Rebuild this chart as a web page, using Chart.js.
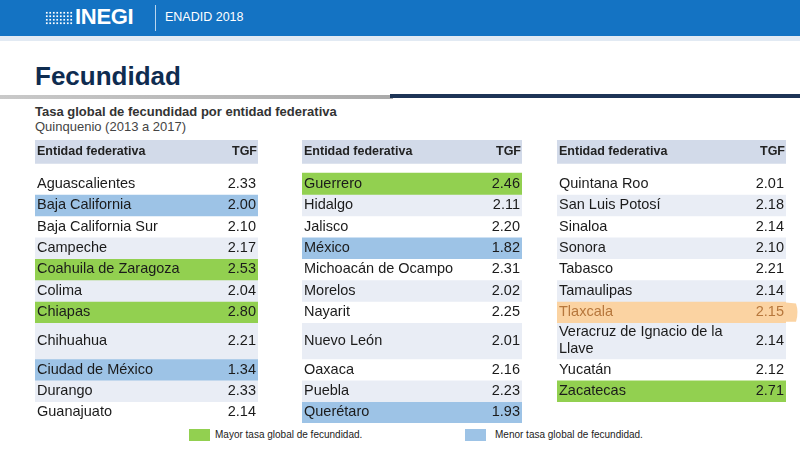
<!DOCTYPE html>
<html lang="es">
<head>
<meta charset="utf-8">
<title>Fecundidad - ENADID 2018</title>
<script src="https://cdn.jsdelivr.net/npm/chart.js@4.4.1/dist/chart.umd.min.js"></script>
<style>
  html, body { margin: 0; padding: 0; }
  body { width: 800px; height: 450px; position: relative; overflow: hidden; background: #fff;
         font-family: "Liberation Sans", Arial, sans-serif; }
  .abs { position: absolute; white-space: nowrap; line-height: 1; }
  #banda { left: 0; top: 0; width: 800px; height: 36px; background: #1473c3; }
  #banda2 { left: 0; top: 36px; width: 800px; height: 5px; background: #e2eaf3; }
  #puntos { left: 45px; top: 11px; width: 28px; height: 14px;
            background-image: radial-gradient(#fff 1px, transparent 1.3px); background-size: 3.5px 3.5px; }
  #logo { left: 75px; top: 6px; font-size: 22px; font-weight: bold; color: #fff; letter-spacing: -0.3px; }
  #sep { left: 155px; top: 5px; width: 1px; height: 26px; background: #b9d5ee; }
  #enadid { left: 165px; top: 11px; font-size: 12.5px; color: #fff; }
  #titulo { left: 35px; top: 63px; font-size: 26px; font-weight: bold; color: #0f2c50; }
  #regla1 { left: 0; top: 95px; width: 393px; height: 4px; background: linear-gradient(90deg, #c9c9c9, #aaaaaa); }
  #regla2 { left: 390px; top: 94px; width: 410px; height: 4px; background: #1d3456; }
  #sub1 { left: 35px; top: 105px; font-size: 13px; font-weight: bold; color: #333; }
  #sub2 { left: 35px; top: 120px; font-size: 13px; color: #444; }
  canvas { position: absolute; top: 140px; }
  .caja { top: 429px; width: 21px; height: 12px; }
  .ley { top: 430px; font-size: 10px; color: #222; }
</style>
</head>
<body>
<div class="abs" id="banda"></div>
<div class="abs" id="banda2"></div>
<div class="abs" id="puntos"></div>
<div class="abs" id="logo">INEGI</div>
<div class="abs" id="sep"></div>
<div class="abs" id="enadid">ENADID 2018</div>
<div class="abs" id="titulo">Fecundidad</div>
<div class="abs" id="regla1"></div>
<div class="abs" id="regla2"></div>
<div class="abs" id="sub1">Tasa global de fecundidad por entidad federativa</div>
<div class="abs" id="sub2">Quinquenio (2013 a 2017)</div>

<canvas id="col0"></canvas>
<canvas id="col1"></canvas>
<canvas id="col2"></canvas>

<div class="abs caja" style="left:189px; background:#92d050;"></div>
<div class="abs ley" style="left:215px;">Mayor tasa global de fecundidad.</div>
<div class="abs caja" style="left:465px; background:#9dc3e6;"></div>
<div class="abs ley" style="left:495px;">Menor tasa global de fecundidad.</div>

<script>
const entidades = [
  'Aguascalientes', 'Baja California', 'Baja California Sur', 'Campeche', 'Coahuila de Zaragoza',
  'Colima', 'Chiapas', 'Chihuahua', 'Ciudad de México', 'Durango', 'Guanajuato',
  'Guerrero', 'Hidalgo', 'Jalisco', 'México', 'Michoacán de Ocampo', 'Morelos', 'Nayarit',
  'Nuevo León', 'Oaxaca', 'Puebla', 'Querétaro',
  'Quintana Roo', 'San Luis Potosí', 'Sinaloa', 'Sonora', 'Tabasco', 'Tamaulipas', 'Tlaxcala',
  'Veracruz de Ignacio de la Llave', 'Yucatán', 'Zacatecas'
];
const tgf = [
  2.33, 2.00, 2.10, 2.17, 2.53, 2.04, 2.80, 2.21, 1.34, 2.33, 2.14,
  2.46, 2.11, 2.20, 1.82, 2.31, 2.02, 2.25, 2.01, 2.16, 2.23, 1.93,
  2.01, 2.18, 2.14, 2.10, 2.21, 2.14, 2.15, 2.14, 2.12, 2.71
];
const filasPorColumna = [11, 11, 10];
const encabezado = ['Entidad federativa', 'TGF'];
const mayorTasa = ['Coahuila de Zaragoza', 'Chiapas', 'Guerrero', 'Zacatecas'];
const menorTasa = ['Baja California', 'Ciudad de México', 'México', 'Querétaro'];
const marcado = ['Tlaxcala'];

// layout (px)
const cols = [
  { left: 35, width: 223, extra: 0 },
  { left: 302, width: 220, extra: 0 },
  { left: 557, width: 229, extra: 14 }
];
const ALTO_ENC = 23.3, HUECO = 9.7, ALTO_FILA = 21.35, ALTO_LINEA = 14.65, INTERLINEA = 17.3;
const FUENTE = '14.5px "Liberation Sans", Arial, sans-serif';
const FUENTE_ENC = 'bold 12.5px "Liberation Sans", Arial, sans-serif';

const medir = document.createElement('canvas').getContext('2d');
medir.font = FUENTE;

function partir(texto, ancho) {
  const palabras = texto.split(' ');
  const lineas = [];
  let actual = '';
  palabras.forEach(p => {
    const prueba = actual ? actual + ' ' + p : p;
    if (actual && medir.measureText(prueba).width > ancho) {
      lineas.push(actual);
      actual = p;
    } else {
      actual = prueba;
    }
  });
  lineas.push(actual);
  return lineas;
}

// split entities into the three columns
const columnas = [];
let k = 0;
filasPorColumna.forEach((n, c) => {
  const filas = [];
  for (let i = 0; i < n; i++, k++) {
    filas.push({
      nombre: entidades[k],
      valor: tgf[k].toFixed(2),
      lineas: partir(entidades[k], cols[c].width - 40)
    });
  }
  columnas.push(filas);
});

// row heights shared by the three columns
const maxFilas = Math.max(...filasPorColumna);
const extents = [];
let y = ALTO_ENC + HUECO;
for (let r = 0; r < maxFilas; r++) {
  const nl = Math.max(...columnas.map(f => f[r] ? f[r].lineas.length : 1));
  const h = ALTO_FILA + (nl - 1) * ALTO_LINEA;
  extents.push([y, y + h]);
  y += h;
}
const total = y;

function colorFila(nombre, r) {
  if (mayorTasa.includes(nombre)) return '#92d050';
  if (menorTasa.includes(nombre)) return '#9dc3e6';
  if (marcado.includes(nombre)) return '#fbd3a2';
  return r % 2 === 1 ? '#e9edf5' : '#ffffff';
}

columnas.forEach((filas, c) => {
  const canvas = document.getElementById('col' + c);
  const w = cols[c].width + cols[c].extra;
  const h = Math.round(total);
  canvas.width = w;
  canvas.height = h;
  canvas.style.left = cols[c].left + 'px';
  canvas.style.width = w + 'px';
  canvas.style.height = h + 'px';

  const datasets = [{ label: 'enc', data: [[0, ALTO_ENC]], backgroundColor: '#d2dae9' }];
  filas.forEach((f, r) => {
    datasets.push({ label: f.nombre, data: [extents[r]], backgroundColor: colorFila(f.nombre, r) });
  });

  const textos = {
    id: 'textos' + c,
    afterDatasetsDraw(chart) {
      const ctx = chart.ctx;
      ctx.save();
      chart.data.datasets.forEach((ds, i) => {
        const el = chart.getDatasetMeta(i).data[0];
        const izq = el.x - el.width / 2, der = el.x + el.width / 2;
        const arriba = Math.min(el.y, el.base), abajo = Math.max(el.y, el.base);
        const medio = (arriba + abajo) / 2;
        ctx.textBaseline = 'middle';
        if (i === 0) {
          ctx.font = FUENTE_ENC;
          ctx.fillStyle = '#222';
          ctx.textAlign = 'left';
          ctx.fillText(encabezado[0], izq + 2, medio);
          ctx.textAlign = 'right';
          ctx.fillText(encabezado[1], der - 1, medio);
          return;
        }
        const f = filas[i - 1];
        if (marcado.includes(f.nombre)) {
          // highlighter stroke running past the table edge
          ctx.fillStyle = ds.backgroundColor;
          ctx.beginPath();
          ctx.moveTo(der, arriba + 1);
          ctx.lineTo(der + 10, arriba + 2);
          ctx.quadraticCurveTo(der + 13, medio, der + 10, abajo - 1);
          ctx.lineTo(der, abajo - 1);
          ctx.fill();
        }
        ctx.font = FUENTE;
        ctx.fillStyle = marcado.includes(f.nombre) ? '#b7773c' : '#1b1b1b';
        ctx.textAlign = 'left';
        const n = f.lineas.length;
        f.lineas.forEach((l, j) => {
          ctx.fillText(l, izq + 2, medio + (j - (n - 1) / 2) * INTERLINEA);
        });
        ctx.textAlign = 'right';
        ctx.fillText(f.valor, der - 2, medio);
      });
      ctx.restore();
    }
  };

  new Chart(canvas, {
    type: 'bar',
    data: { labels: [''], datasets: datasets },
    options: {
      responsive: false,
      animation: false,
      devicePixelRatio: 1,
      layout: { padding: { left: 0, right: cols[c].extra, top: 0, bottom: 0 } },
      datasets: { bar: { grouped: false, categoryPercentage: 1, barPercentage: 1, borderWidth: 0 } },
      scales: {
        x: { display: false },
        y: { display: false, reverse: true, min: 0, max: total }
      },
      plugins: { legend: { display: false }, tooltip: { enabled: false } }
    },
    plugins: [textos]
  });
});
</script>
</body>
</html>
